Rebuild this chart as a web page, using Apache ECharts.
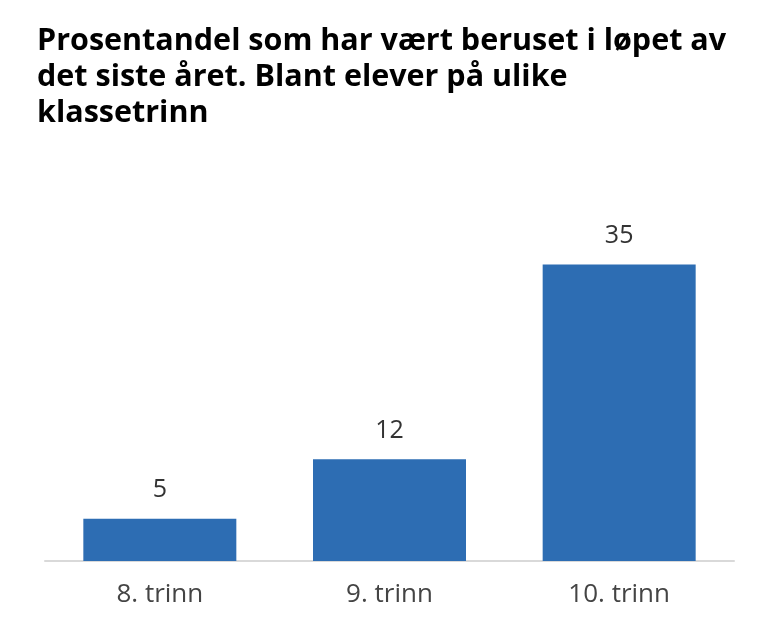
<!DOCTYPE html>
<html>
<head>
<meta charset="utf-8">
<script src="https://cdn.jsdelivr.net/npm/echarts@6/dist/echarts.min.js"></script>
<style>html,body{margin:0;padding:0;background:#fff}#c{width:767px;height:622px}</style>
</head>
<body>
<div id="c"></div>
<script>
const titleText = 'Prosentandel som har vært beruset i løpet av\ndet siste året. Blant elever på ulike\nklassetrinn';
const categories = ['8. trinn', '9. trinn', '10. trinn'];
const values = [5, 12, 35];

const chart = echarts.init(document.getElementById('c'));
chart.setOption({
  backgroundColor: '#ffffff',
  animation: false,
  title: {
    text: titleText,
    left: 32,
    top: 18,
    textStyle: {
      fontFamily: 'Open Sans',
      fontWeight: 'bold',
      fontSize: 30.5,
      lineHeight: 36,
      color: '#000000'
    }
  },
  grid: { left: 45, right: 33, top: 222, bottom: 61 },
  xAxis: {
    type: 'category',
    data: categories,
    axisLine: { show: true, lineStyle: { color: '#d9d9d9', width: 2 } },
    axisTick: { show: false },
    axisLabel: {
      fontFamily: 'Open Sans',
      fontSize: 26,
      color: '#444444',
      margin: 21
    }
  },
  yAxis: {
    type: 'value',
    min: 0,
    max: 40,
    show: false,
    splitLine: { show: false }
  },
  series: [{
    type: 'bar',
    data: values,
    barWidth: 153,
    itemStyle: { color: '#2d6db3' },
    label: {
      show: true,
      position: 'top',
      distance: 16,
      fontFamily: 'Open Sans',
      fontSize: 25,
      color: '#333333'
    }
  }]
});
</script>
</body>
</html>
